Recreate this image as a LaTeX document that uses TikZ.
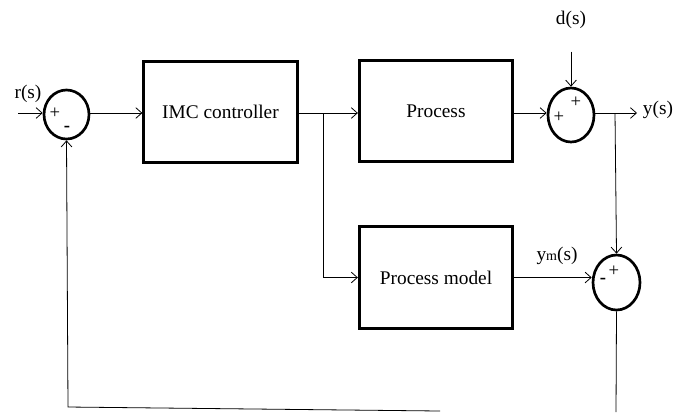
\documentclass[tikz,border=0pt]{standalone}
\usepackage{fontspec}
\setmainfont{Liberation Serif}
\usetikzlibrary{shapes.geometric, arrows.meta}

\tikzset{
  block/.style={draw, line width=2.2pt, rectangle, minimum width=115pt, minimum height=76pt, inner sep=0pt, font=\fontsize{14.5}{16}\selectfont},
  summer/.style={draw, line width=2pt, ellipse, inner sep=0pt},
  sig/.style={line width=0.6pt, -{Straight Barb[length=4.5pt,width=8pt]}},
  wire/.style={line width=0.6pt},
  lbl/.style={font=\fontsize{14.5}{16}\selectfont, inner sep=1pt},
  sgn/.style={font=\fontsize{14}{14}\selectfont, inner sep=0pt}
}

\begin{document}
\begin{tikzpicture}[x=0.75pt, y=-0.75pt]
  \useasboundingbox (0,0) rectangle (673,412);

  % blocks
  \node [block] (imc) at (220.5,112) {IMC controller};
  \node [block] (proc) at (436,111) {Process};
  \node [block] (model) at (436,277.5) {Process model};

  % summing junctions
  \node [summer, minimum width=33.75pt, minimum height=36.75pt] (s1) at (66.5,114.5) {};
  \node [summer, minimum width=34.5pt, minimum height=40.5pt] (s2) at (571,115) {};
  \node [summer, minimum width=35.25pt, minimum height=41.25pt] (s3) at (616.5,282.5) {};

  % signs
  \node [sgn] at (55,113) {+};
  \node [sgn] at (67,129) {\textbf{-}};
  \node [sgn] at (559,117) {+};
  \node [sgn] at (576,102) {+};
  \node [sgn] at (603,281) {\textbf{-}};
  \node [sgn] at (614,271) {+};

  % labels
  \node [lbl] (rs) at (28,94) {r(s)};
  \node [lbl] (ds) at (571,20) {d(s)};
  \node [lbl] (ys) at (658,110) {y(s)};
  \node [lbl] (yms) at (557,256) {y{\fontsize{10.5}{10}\selectfont m}(s)};

  \coordinate (rin) at (18,113);
  \coordinate (split) at (323,113);
  \coordinate (yout) at (637,113);
  \coordinate (tap) at (615,113);
  \coordinate (fbR) at (616,412);
  \coordinate (fbB) at (440,411);
  \coordinate (fbL) at (68,407);

  % forward path
  \draw [sig] (rin) -- (rin -| s1.west);
  \draw [sig] (s1.east |- split) -- (split -| imc.west);
  \draw [wire] (imc.east |- split) -- (split);
  \draw [sig] (split) -- (split -| proc.west);
  \draw [sig] (split) |- (model.west);
  \draw [sig] (proc.east |- split) -- (split -| s2.west);
  \draw [sig, shorten <=16pt] (ds.south) -- (s2.north);
  \draw [sig] (s2.east |- yout) -- (yout);
  \draw [sig] (tap) -- (s3.north);
  \draw [sig] (model.east) -- (model.east -| s3.west);

  % feedback
  \draw [wire] (s3.south) -- (fbR);
  \draw [sig] (fbB) -- (fbL) -- (s1.south);
\end{tikzpicture}
\end{document}
